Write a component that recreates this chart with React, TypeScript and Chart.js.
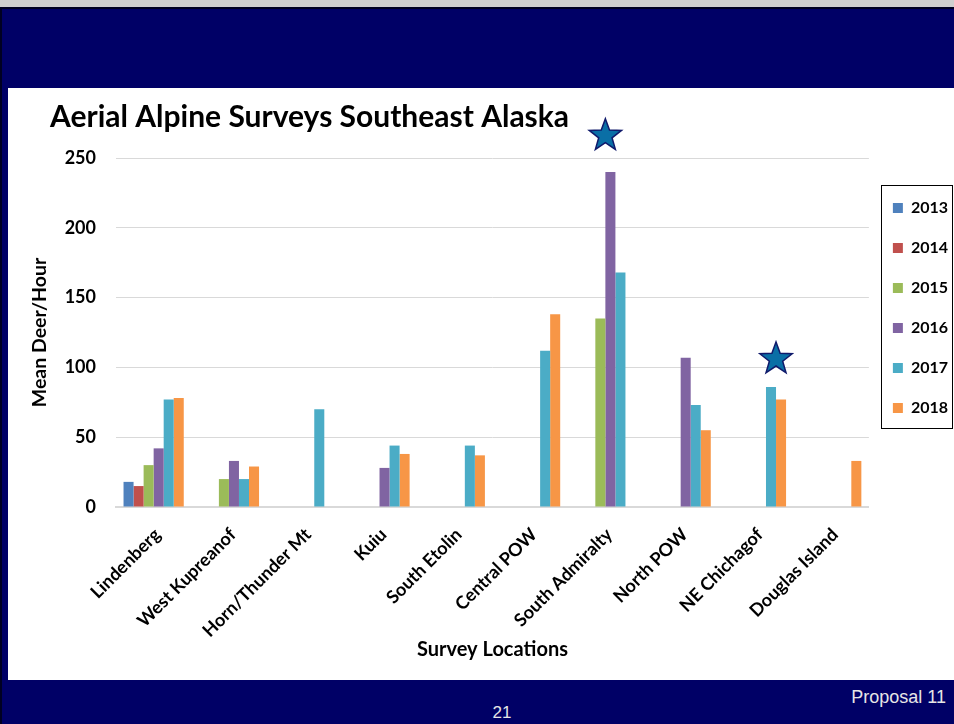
import { useEffect, useRef } from "react";
import { Chart, registerables } from "chart.js";

Chart.register(...registerables);

const locations = [
  "Lindenberg",
  "West Kupreanof",
  "Horn/Thunder Mt",
  "Kuiu",
  "South Etolin",
  "Central POW",
  "South Admiralty",
  "North POW",
  "NE Chichagof",
  "Douglas Island",
];
const years = ["2013", "2014", "2015", "2016", "2017", "2018"];
const deer2013 = [18, null, null, null, null, null, null, null, null, null];
const deer2014 = [15, null, null, null, null, null, null, null, null, null];
const deer2015 = [30, 20, null, null, null, null, 135, null, null, null];
const deer2016 = [42, 33, null, 28, null, null, 240, 107, null, null];
const deer2017 = [77, 20, 70, 44, 44, 112, 168, 73, 86, null];
const deer2018 = [78, 29, null, 38, 37, 138, null, 55, 77, 33];
const yearColors = ["#4F81BD", "#C0504D", "#9BBB59", "#8064A2", "#4BACC6", "#F79646"];
const yMin = 0;
const yMax = 250;
const yStep = 50;
const starMarks = [
  { location: "South Admiralty", year: "2016", value: 266 },
  { location: "NE Chichagof", year: "2018", value: 106 },
];

const FONT = "Lato, 'Open Sans', sans-serif";

function drawStar(ctx: CanvasRenderingContext2D, cx: number, cy: number, R: number, r: number) {
  ctx.beginPath();
  for (let k = 0; k < 10; k++) {
    const rad = k % 2 === 0 ? R : r;
    const a = -Math.PI / 2 + (k * Math.PI) / 5;
    const px = cx + rad * Math.cos(a);
    const py = cy + rad * Math.sin(a);
    if (k === 0) ctx.moveTo(px, py);
    else ctx.lineTo(px, py);
  }
  ctx.closePath();
  ctx.fillStyle = "#0A6FA6";
  ctx.fill();
  ctx.lineWidth = 1.5;
  ctx.strokeStyle = "#101A6B";
  ctx.stroke();
}

const starPlugin = {
  id: "starPlugin",
  afterDatasetsDraw(chart: any) {
    const ctx = chart.ctx;
    const ys = chart.scales.y;
    starMarks.forEach((s) => {
      const i = locations.indexOf(s.location);
      const d = years.indexOf(s.year);
      const el: any = chart.getDatasetMeta(d).data[i];
      if (!el) return;
      const cx = el.x - el.width / 2;
      const cy = ys.getPixelForValue(s.value);
      ctx.save();
      drawStar(ctx, cx, cy, 17, 7);
      ctx.restore();
    });
  },
};

const legendFrame = {
  id: "legendFrame",
  afterDraw(chart: any) {
    const lg = chart.legend;
    const hb = lg && lg.legendHitBoxes;
    if (!hb || !hb.length) return;
    const first = hb[0];
    const last = hb[hb.length - 1];
    const left = lg.left + 12;
    const right = lg.right - 6;
    const top = first.top + first.height / 2 - 23;
    const bottom = last.top + last.height / 2 + 20;
    const ctx = chart.ctx;
    ctx.save();
    ctx.strokeStyle = "#000";
    ctx.lineWidth = 1;
    ctx.strokeRect(Math.round(left) + 0.5, Math.round(top) + 0.5, Math.round(right - left), Math.round(bottom - top));
    ctx.restore();
  },
};

export default function App() {
  const ref = useRef<HTMLCanvasElement>(null);

  useEffect(() => {
    const series = [deer2013, deer2014, deer2015, deer2016, deer2017, deer2018];
    const chart = new Chart(ref.current as HTMLCanvasElement, {
      type: "bar",
      data: {
        labels: locations,
        datasets: years.map((y, k) => ({
          label: y,
          data: series[k],
          backgroundColor: yearColors[k],
          borderWidth: 0,
          categoryPercentage: 0.8,
          barPercentage: 1.0,
        })),
      },
      options: {
        animation: false,
        responsive: true,
        maintainAspectRatio: false,
        layout: { padding: { left: 34, right: 0, top: 4, bottom: 7 } },
        plugins: {
          title: {
            display: true,
            text: "Aerial Alpine Surveys Southeast Alaska",
            align: "start",
            color: "#000",
            font: { family: FONT, size: 30, weight: "bold" },
            padding: { top: 3, bottom: 23 },
          },
          legend: {
            position: "right",
            align: "start",
            fullSize: false,
            title: { display: true, text: "", font: { size: 10, lineHeight: 1 }, padding: { top: 0, bottom: 8 } },
            labels: {
              boxWidth: 10,
              boxHeight: 10,
              padding: 24,
              color: "#000",
              font: { family: FONT, size: 16, weight: "bold" },
            },
          },
          tooltip: { enabled: false },
        },
        scales: {
          x: {
            grid: { display: false, drawTicks: false },
            border: { display: true, color: "#d9d9d9", width: 2 },
            ticks: {
              autoSkip: false,
              minRotation: 45,
              maxRotation: 45,
              padding: 17,
              labelOffset: 4,
              color: "#000",
              font: { family: FONT, size: 18, weight: "bold" },
            },
            title: {
              display: true,
              text: "Survey Locations",
              color: "#000",
              font: { family: FONT, size: 20, weight: "bold" },
              padding: { top: 4, bottom: 3 },
            },
            afterFit: (scale: any) => {
              scale.height = 158;
            },
          },
          y: {
            min: yMin,
            max: yMax,
            grid: { color: "#d9d9d9", lineWidth: 1, drawTicks: false },
            border: { display: false },
            ticks: {
              stepSize: yStep,
              padding: 20,
              color: "#000",
              font: { family: FONT, size: 18, weight: "bold" },
            },
            title: {
              display: true,
              text: "Mean Deer/Hour",
              color: "#000",
              font: { family: FONT, size: 19.5, weight: "bold" },
              padding: { top: -21.7, bottom: 14 },
            },
            afterFit: (scale: any) => {
              scale.width = 66;
            },
          },
        },
      },
      plugins: [starPlugin, legendFrame],
    } as any);
    return () => chart.destroy();
  }, []);

  return (
    <div
      style={{
        position: "fixed",
        left: 0,
        top: 0,
        width: 954,
        height: 724,
        background: "#000066",
        overflow: "hidden",
      }}
    >
      <div style={{ position: "absolute", left: 0, top: 0, width: 954, height: 7, background: "#cfcfcf" }} />
      <div style={{ position: "absolute", left: 0, top: 7, width: 954, height: 2, background: "#000022" }} />
      <div style={{ position: "absolute", left: 0, top: 7, width: 2, height: 717, background: "#000022" }} />
      <div style={{ position: "absolute", left: 8, top: 88, width: 946, height: 592, background: "#ffffff" }} />
      <div style={{ position: "absolute", left: 16, top: 92, width: 942, height: 580 }}>
        <canvas ref={ref} style={{ display: "block" }} />
      </div>
      <div
        style={{
          position: "absolute",
          right: 8,
          top: 687,
          fontFamily: "'Liberation Sans', Arial, sans-serif",
          fontSize: 18,
          lineHeight: "21px",
          color: "#e6e6e6",
        }}
      >
        Proposal 11
      </div>
      <div
        style={{
          position: "absolute",
          left: 482,
          width: 40,
          textAlign: "center",
          top: 703,
          fontFamily: "'Liberation Sans', Arial, sans-serif",
          fontSize: 17,
          lineHeight: "20px",
          color: "#e6e6e6",
        }}
      >
        21
      </div>
    </div>
  );
}
